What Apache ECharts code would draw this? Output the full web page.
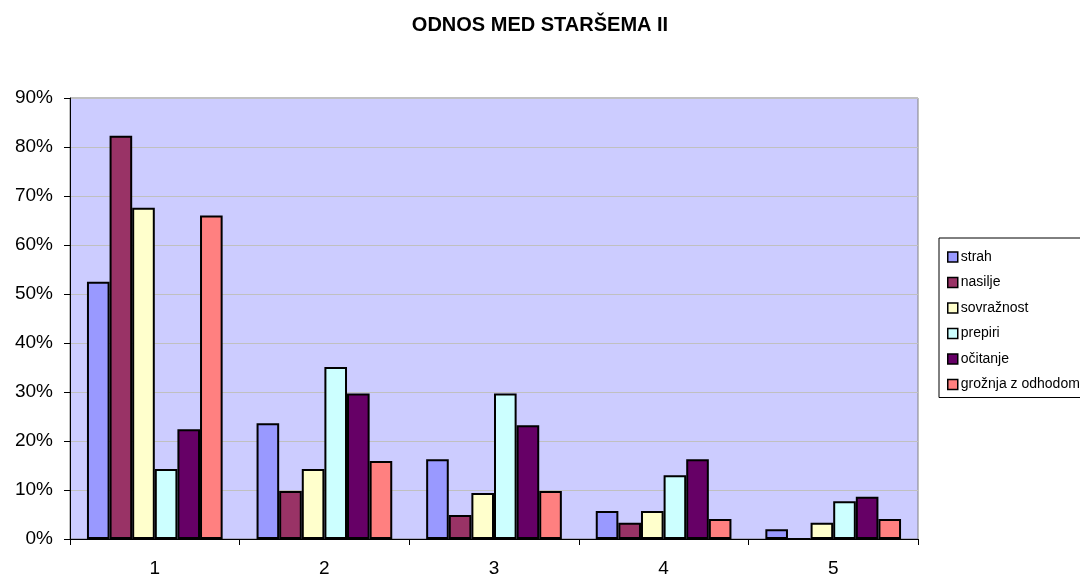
<!DOCTYPE html>
<html>
<head>
<meta charset="utf-8">
<script src="https://cdn.jsdelivr.net/npm/echarts@6/dist/echarts.min.js"></script>
<style>
  html, body { margin: 0; padding: 0; background: #fff; }
</style>
</head>
<body>
<div id="myChart" style="width:1080px;height:578px"></div>
<script>
var categories = ['1', '2', '3', '4', '5'];
var seriesNames = ['strah', 'nasilje', 'sovražnost', 'prepiri', 'očitanje', 'grožnja z odhodom'];
var seriesColors = ['#9999FF', '#993366', '#FFFFCC', '#CCFFFF', '#660066', '#FF8080'];

// values in percent
var strah = [52.5, 23.6, 16.3, 5.7, 2.0];
var nasilje = [82.3, 9.8, 4.9, 3.3, 0];
var sovraznost = [67.6, 14.3, 9.4, 5.7, 3.3];
var prepiri = [14.3, 35.1, 29.7, 13.0, 7.7];
var ocitanje = [22.4, 29.7, 23.2, 16.3, 8.6];
var groznja = [66.0, 15.9, 9.8, 4.1, 4.1];

var seriesValues = [strah, nasilje, sovraznost, prepiri, ocitanje, groznja];

var chartDom = document.getElementById('myChart');
var myChart = echarts.init(chartDom);
var option;

var series = [];
for (var i = 0; i < seriesNames.length; i++) {
    series.push({
        name: seriesNames[i],
        type: 'bar',
        barGap: '0%',
        barCategoryGap: '20%',
        itemStyle: {
            color: seriesColors[i],
            borderColor: '#000',
            borderWidth: 2
        },
        data: seriesValues[i]
    });
}

option = {
    animation: false,
    textStyle: { fontFamily: 'Liberation Sans, Arial, sans-serif' },
    title: {
        text: 'ODNOS MED STARŠEMA II',
        left: 'center',
        top: 10,
        textStyle: { fontSize: 20, fontWeight: 'bold', color: '#000' }
    },
    legend: {
        orient: 'vertical',
        left: 939,
        top: 238,
        padding: [12, 40, 6, 8],
        itemWidth: 10,
        itemHeight: 10,
        itemGap: 11.5,
        backgroundColor: '#fff',
        borderColor: '#000',
        borderWidth: 1,
        borderRadius: 0,
        icon: 'rect',
        itemStyle: { borderColor: '#000', borderWidth: 1.5 },
        textStyle: { fontSize: 14, color: '#000', padding: [0, 0, 0, -2] },
        data: seriesNames
    },
    grid: {
        left: 70,
        right: 162,
        top: 98,
        bottom: 38,
        show: true,
        backgroundColor: '#CCCCFF',
        borderColor: '#808080',
        borderWidth: 1
    },
    xAxis: {
        type: 'category',
        data: categories,
        axisLine: { lineStyle: { color: '#000', width: 1 } },
        axisTick: { show: true, length: 6, lineStyle: { color: '#000' } },
        axisLabel: { fontSize: 19, color: '#000', margin: 20 }
    },
    yAxis: {
        type: 'value',
        min: 0,
        max: 90,
        interval: 10,
        axisLine: { show: true, lineStyle: { color: '#000', width: 1 } },
        axisTick: { show: true, length: 6, lineStyle: { color: '#000' } },
        axisLabel: { fontSize: 19, color: '#000', margin: 17, formatter: '{value}%' },
        splitLine: { lineStyle: { color: '#C0C0C0', width: 1 } }
    },
    series: series
};

option && myChart.setOption(option);
</script>
</body>
</html>
